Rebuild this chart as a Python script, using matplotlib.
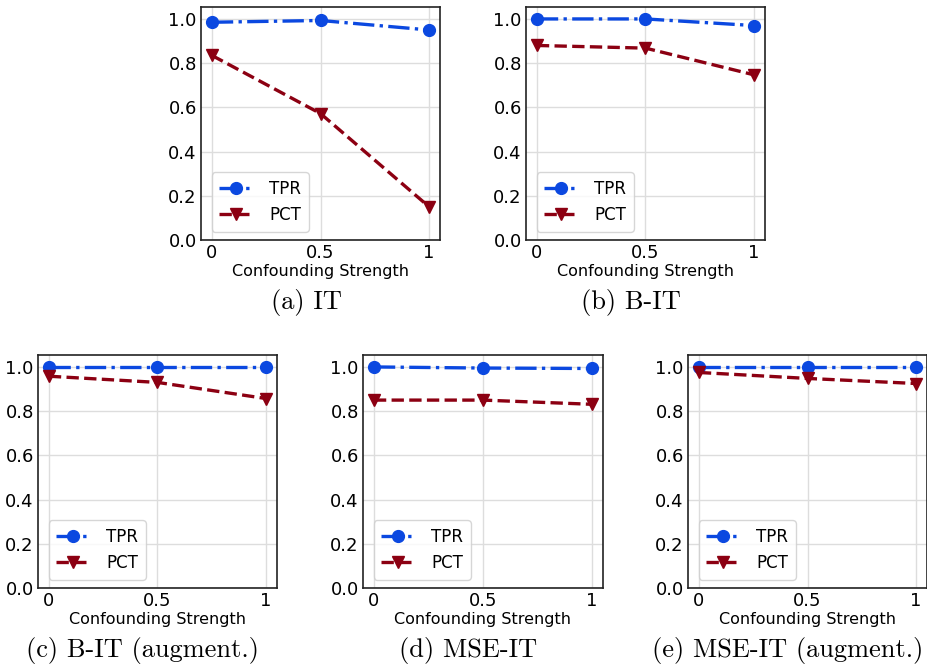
import matplotlib
matplotlib.use("Agg")
import matplotlib.pyplot as plt

# ============================
# Data
# ============================
strength = [0, 0.5, 1]
strength_labels = ["0", "0.5", "1"]

captions = ["(a) IT", "(b) B-IT", "(c) B-IT (augment.)",
            "(d) MSE-IT", "(e) MSE-IT (augment.)"]

tpr_it = [0.985, 0.993, 0.950]
pct_it = [0.835, 0.572, 0.150]

tpr_bit = [1.000, 1.000, 0.970]
pct_bit = [0.880, 0.868, 0.747]

tpr_bit_aug = [1.000, 1.000, 1.000]
pct_bit_aug = [0.958, 0.930, 0.857]

tpr_mse = [1.000, 0.995, 0.993]
pct_mse = [0.850, 0.850, 0.831]

tpr_mse_aug = [1.000, 1.000, 1.000]
pct_mse_aug = [0.975, 0.948, 0.925]

tpr_all = [tpr_it, tpr_bit, tpr_bit_aug, tpr_mse, tpr_mse_aug]
pct_all = [pct_it, pct_bit, pct_bit_aug, pct_mse, pct_mse_aug]

W, H = 928, 670
fig = plt.figure(figsize=(W / 100, H / 100), dpi=100)

# axes boxes in pixels: left, top, right, bottom
boxes = [(201, 7, 440, 240), (526, 7, 765, 240),
         (38, 355, 277, 588), (363, 355, 603, 588), (688, 355, 927, 588)]
# caption centres (x pixels)
cap_x = [306, 631, 143, 468, 788]

BLUE = '#0b48e0'
RED = '#8c0012'

for box, tpr, pct, cap, cx in zip(boxes, tpr_all, pct_all, captions, cap_x):
    l, t, r, b = box
    ax = fig.add_axes([l / W, 1 - b / H, (r - l) / W, (b - t) / H])
    ax.plot(strength, tpr, color=BLUE, linestyle='-.', linewidth=2.4,
            marker='o', markersize=8.5, label='TPR')
    ax.plot(strength, pct, color=RED, linestyle='--', linewidth=2.4,
            marker='v', markersize=8.5, label='PCT')
    ax.set_xlim(-0.05, 1.05)
    ax.set_ylim(0, 1.054)
    ax.set_xticks(strength)
    ax.set_xticklabels(strength_labels)
    ax.set_yticks([0, 0.2, 0.4, 0.6, 0.8, 1.0])
    ax.set_yticklabels(["0.0", "0.2", "0.4", "0.6", "0.8", "1.0"])
    ax.tick_params(length=0, labelsize=13, pad=3)
    ax.grid(True, color='#dddddd', linewidth=1)
    ax.set_axisbelow(True)
    for sp in ax.spines.values():
        sp.set_color('#222222')
        sp.set_linewidth(1.2)
    ax.set_xlabel("Confounding Strength", fontsize=11.5, labelpad=1)
    ax.legend(loc='lower left', fontsize=12, handlelength=2.0,
              bbox_to_anchor=(0.01, 0.0), borderpad=0.45, labelspacing=0.5,
              handletextpad=1.0)
    fig.text(cx / W, 1 - (b + 62) / H, cap, fontsize=19, family='cmr10',
             ha='center', va='center')

fig.savefig("out.png", dpi=100)
